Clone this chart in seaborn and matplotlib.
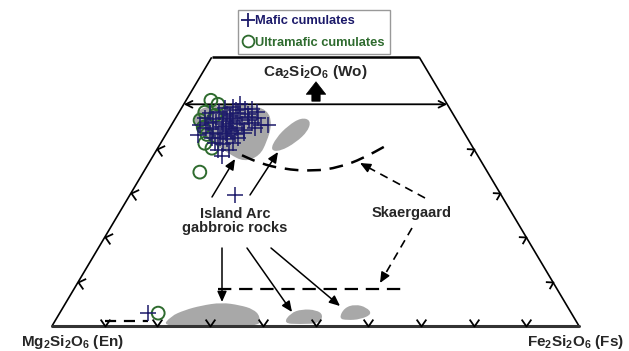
import numpy as np
import pandas as pd
import matplotlib
matplotlib.use("Agg")
import matplotlib.pyplot as plt
import seaborn as sns
from matplotlib.path import Path
from matplotlib.patches import PathPatch, FancyArrowPatch
from matplotlib.lines import Line2D

# ---- pyroxene compositions, mol% (Wo, Fs); En = 100 - Wo - Fs ----
mafic_wo = [50.0, 49.1, 49.3, 48.9, 49.0,
            48.0, 48.2, 47.8, 48.1, 47.9, 48.3,
            46.8, 46.6, 47.0, 46.7, 46.9, 46.5, 46.8,
            45.7, 45.9, 45.5, 45.8, 45.6, 45.7, 45.4,
            44.6, 44.4, 44.8, 44.5, 44.7, 44.3, 44.6,
            43.5, 43.3, 43.6, 43.4, 43.5,
            42.3, 42.5, 42.2, 42.4,
            41.2, 41.0, 41.3,
            39.6, 39.8,
            38.3,
            47.4, 46.2, 45.1, 44.0, 42.9, 48.6, 47.2,
            45.3, 29.5, 2.9, 45.3, 43.0]
mafic_fs = [10.7, 8.3, 9.6, 12.1, 13.4,
            6.0, 7.5, 9.4, 11.3, 13.2, 14.7,
            5.6, 7.2, 8.9, 10.4, 12.3, 14.2, 15.7,
            6.7, 8.2, 9.7, 11.4, 13.2, 15.1, 16.9,
            6.9, 8.4, 9.8, 11.3, 12.8, 14.3, 16.2,
            8.3, 9.8, 11.3, 13.0, 14.7,
            9.2, 10.7, 12.2, 14.1,
            10.3, 12.0, 13.6,
            11.7, 13.6,
            13.2,
            10.0, 11.1, 10.5, 12.0, 11.8, 10.6, 13.6,
            18.4, 20.0, 16.8, 5.5, 6.2]

ultramafic_wo = [50.9, 50.0, 48.2, 47.5, 46.4, 44.8, 43.2, 41.2, 40.1, 34.7, 2.9]
ultramafic_fs = [4.7, 6.5, 4.9, 7.2, 4.9, 6.3, 7.8, 8.4, 10.3, 10.7, 18.7]

# island-arc gabbro pyroxene fields (outlines)
arc_cpx_wo = [48.6, 49.9, 50.0, 48.8, 45.5, 41.5, 38.4, 37.0, 38.8, 41.5, 44.5]
arc_cpx_fs = [2.8, 6.0, 12.0, 16.5, 19.0, 20.0, 20.2, 18.0, 14.2, 9.5, 4.8]
arc_cpx2_wo = [39.6, 42.4, 45.2, 47.0, 46.4, 44.0, 41.4, 39.4]
arc_cpx2_fs = [21.6, 21.3, 22.2, 23.8, 25.9, 26.6, 25.6, 23.6]
arc_opx_wo = [-0.4, 2.2, 3.6, 4.6, 5.3, 4.7, 3.8, 2.2, -0.4]
arc_opx_fs = [21.0, 21.4, 23.4, 26.0, 29.5, 33.3, 36.3, 38.4, 39.6]
arc_opx2_wo = [0.6, 2.9, 3.8, 3.6, 2.5, 0.6, 0.4]
arc_opx2_fs = [43.6, 43.8, 45.5, 48.4, 50.2, 50.5, 46.8]
arc_opx3_wo = [1.7, 4.1, 4.9, 4.2, 2.7, 1.5, 1.3]
arc_opx3_fs = [53.6, 53.4, 55.1, 57.6, 59.4, 57.8, 55.3]

# Skaergaard trends
skaer_cpx_wo = [38.5, 36.7, 35.4, 34.9, 35.8, 37.8, 40.8]
skaer_cpx_fs = [16.8, 21.1, 26.1, 32.1, 36.7, 40.1, 43.2]
skaer_pig_wo = [8.3, 8.3]
skaer_pig_fs = [27.3, 62.0]
skaer_opx_wo = [1.1, 1.1]
skaer_opx_fs = [9.5, 17.7]

wo_ticks = [10, 20, 30, 40]
fs_ticks = [10, 20, 30, 40, 50, 60, 70, 80, 90]
WO_TOP = 60.6

NAVY = "#1c1a6a"
GREEN = "#2e6b2e"
FIELD = "#a8a8a8"

sns.set_theme(style="white")
plt.rcParams["font.family"] = ["Liberation Sans", "DejaVu Sans"]
plt.rcParams["mathtext.fontset"] = "custom"
plt.rcParams["mathtext.rm"] = "Liberation Sans:bold"
plt.rcParams["mathtext.it"] = "Liberation Sans:bold"
plt.rcParams["mathtext.bf"] = "Liberation Sans:bold"

W, H = 629, 351
fig = plt.figure(figsize=(W / 100, H / 100), dpi=100)
ax = fig.add_axes([0, 0, 1, 1])
XLIM = (-9.87, 109.49)
YLIM = (-5.64, 73.52)


def tern(wo, fs):
    """Ternary (Wo, Fs) -> plot coordinates."""
    wo = np.asarray(wo, float)
    fs = np.asarray(fs, float)
    return fs + wo / 2.0, wo


def pix(x, y):
    return (x / W, 1 - y / H)


def smooth_path(x, y, closed):
    pts = np.column_stack([x, y])
    n = len(pts)
    if closed:
        mids = (pts + np.roll(pts, -1, axis=0)) / 2
        verts = [mids[-1]]
        codes = [Path.MOVETO]
        for i in range(n):
            verts += [pts[i], mids[i]]
            codes += [Path.CURVE3, Path.CURVE3]
        verts.append(mids[-1])
        codes.append(Path.CLOSEPOLY)
    else:
        mids = (pts[:-1] + pts[1:]) / 2
        verts = [pts[0], mids[0]]
        codes = [Path.MOVETO, Path.LINETO]
        for i in range(1, n - 1):
            verts += [pts[i], mids[i]]
            codes += [Path.CURVE3, Path.CURVE3]
        verts.append(pts[-1])
        codes.append(Path.LINETO)
    return Path(verts, codes)


# ---- pyroxene fields ----
for fw, ff in [(arc_cpx_wo, arc_cpx_fs), (arc_cpx2_wo, arc_cpx2_fs),
               (arc_opx_wo, arc_opx_fs), (arc_opx2_wo, arc_opx2_fs),
               (arc_opx3_wo, arc_opx3_fs)]:
    px_, py_ = tern(fw, ff)
    ax.add_patch(PathPatch(smooth_path(px_, py_, True), fc=FIELD, ec="none", zorder=1))

# ---- quadrilateral frame ----
kw = dict(color="black", solid_capstyle="butt", zorder=3)
ax.plot(*tern([0, WO_TOP], [0, 0]), lw=1.2, **kw)
ax.plot(*tern([0, WO_TOP], [100, 100 - WO_TOP]), lw=1.2, **kw)
ax.plot(*tern([0, 0], [0, 100]), lw=2.2, color="#333333", zorder=3)
ax.plot(*tern([WO_TOP, WO_TOP], [0, 100 - WO_TOP]), lw=1.8, **kw)

# edge ticks
base_tick = Path([(-0.57, 0.82), (0, 0), (0.57, 0.82)], [Path.MOVETO, Path.LINETO, Path.LINETO])
left_tick = Path([(0.9, 0.42), (0, 0), (0.57, -0.82)], [Path.MOVETO, Path.LINETO, Path.LINETO])
right_tick = Path([(-1, 0.05), (0, 0), (-0.5, -0.87)], [Path.MOVETO, Path.LINETO, Path.LINETO])
tkw = dict(ls="none", mfc="none", mec="black", mew=1.3, zorder=3)
ax.plot(*tern(np.zeros(len(fs_ticks)), fs_ticks), marker=base_tick, ms=10, **tkw)
ax.plot(*tern(wo_ticks, np.zeros(len(wo_ticks))), marker=left_tick, ms=11, **tkw)
ax.plot(*tern(wo_ticks, 100 - np.array(wo_ticks)), marker=right_tick, ms=11, **tkw)

# Wo = 50 line
ax.annotate("", xy=tern(50, 0), xytext=tern(50, 50),
            arrowprops=dict(arrowstyle="<->", lw=1.3, color="black",
                            shrinkA=0, shrinkB=0, mutation_scale=12), zorder=3)

# ---- Skaergaard trends ----
cx, cy = tern(skaer_cpx_wo, skaer_cpx_fs)
ax.add_patch(PathPatch(smooth_path(cx, cy, False), fill=False, ec="black", lw=1.8,
                       ls=(0, (5.5, 3.5)), zorder=3))
ax.plot(*tern(skaer_pig_wo, skaer_pig_fs), color="black", lw=1.6, ls=(0, (6, 3.5)), zorder=3)
ax.plot(*tern(skaer_opx_wo, skaer_opx_fs), color="black", lw=1.6, ls=(0, (5, 3.5)), zorder=3)

# ---- samples ----
uX, uY = tern(ultramafic_wo, ultramafic_fs)
mX, mY = tern(mafic_wo, mafic_fs)
ultra = pd.DataFrame({"x": uX, "y": uY})
mafic = pd.DataFrame({"x": mX, "y": mY})
sns.scatterplot(data=ultra, x="x", y="y", marker="o", s=85, facecolor="none",
                edgecolor=GREEN, linewidth=1.4, ax=ax, legend=False, zorder=4)
sns.scatterplot(data=mafic, x="x", y="y", marker="+", s=140, color=NAVY,
                linewidth=1.1, ax=ax, legend=False, zorder=5)
ax.set_xlim(*XLIM)
ax.set_ylim(*YLIM)
ax.axis("off")

# ---- annotations ----
def arrow(p0, p1):
    ax.annotate("", xy=pix(*p1), xytext=pix(*p0), xycoords="figure fraction",
                textcoords="figure fraction",
                arrowprops=dict(arrowstyle="-|>,head_length=0.45,head_width=0.2",
                                lw=1.1, color="black", shrinkA=0, shrinkB=0,
                                mutation_scale=14), zorder=6)


def dashed_arrow(p0, p1):
    p0 = np.array(p0, float)
    p1 = np.array(p1, float)
    u = (p1 - p0) / np.hypot(*(p1 - p0))
    q = p1 - 5 * u
    ax.plot([p0[0] / W, q[0] / W], [1 - p0[1] / H, 1 - q[1] / H], transform=fig.transFigure,
            color="black", lw=1.2, ls=(0, (5, 3.5)), zorder=6)
    arrow(p1 - 9 * u, p1)


for a, b in [((212, 197), (235, 159)), ((250, 195), (278, 152)),
             ((222, 248), (222, 302)), ((247, 248), (292, 312)),
             ((271, 248), (340, 306))]:
    arrow(a, b)
dashed_arrow((425, 198), (360, 163))
dashed_arrow((412, 228), (380, 283))

# upward arrow towards Wo
ax.add_patch(FancyArrowPatch(pix(316, 104), pix(316, 79), transform=fig.transFigure,
                             arrowstyle="simple,head_width=1.4,head_length=0.9,tail_width=0.6",
                             mutation_scale=10, fc="black", ec="black", lw=0.5, zorder=6))

fig.text(*pix(315, 72), r"Ca$_2$Si$_2$O$_6$ (Wo)", ha="center", va="center",
         fontsize=11, weight="bold")
fig.text(*pix(72, 342), r"Mg$_2$Si$_2$O$_6$ (En)", ha="center", va="center",
         fontsize=11, weight="bold")
fig.text(*pix(575, 342), r"Fe$_2$Si$_2$O$_6$ (Fs)", ha="center", va="center",
         fontsize=11, weight="bold")
fig.text(*pix(235, 221), "Island Arc\ngabbroic rocks", ha="center", va="center",
         fontsize=10.5, weight="bold", linespacing=1.05)
fig.text(*pix(412, 213), "Skaergaard", ha="center", va="center",
         fontsize=10.5, weight="bold")

# ---- legend ----
handles = [Line2D([], [], ls="none", marker="+", color=NAVY, ms=10, mew=1.3),
           Line2D([], [], ls="none", marker="o", mfc="none", mec=GREEN, ms=8.5, mew=1.3)]
leg = fig.legend(handles, ["Mafic cumulates", "Ultramafic cumulates"],
                 loc="upper left", bbox_to_anchor=pix(238, 10), borderaxespad=0,
                 frameon=True, fancybox=False, edgecolor="#808080",
                 handlelength=0.8, handletextpad=0.15, borderpad=0.4,
                 labelspacing=0.75, prop={"weight": "bold", "size": 9.3})
leg.get_frame().set_linewidth(1.0)
for t, c in zip(leg.get_texts(), [NAVY, GREEN]):
    t.set_color(c)

fig.savefig("out.png", dpi=100)
